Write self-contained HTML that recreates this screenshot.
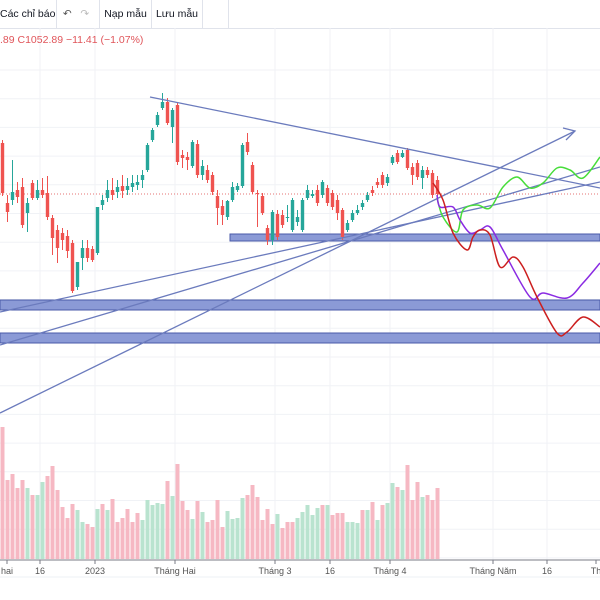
<!DOCTYPE html>
<html><head><meta charset="utf-8"><style>
html,body{margin:0;padding:0;background:#fff;width:600px;height:600px;overflow:hidden;font-family:"Liberation Sans","DejaVu Sans",sans-serif}
#tb{position:absolute;left:0;top:0;width:600px;height:28px;border-bottom:1px solid #e0e3eb;font-size:10.5px;color:#131722;white-space:nowrap}
.tbi{position:absolute;top:0;height:28px;line-height:28px;border-right:1px solid #e0e3eb;white-space:nowrap;overflow:hidden}
#legend{position:absolute;left:0;top:34px;font-size:10.5px;color:#e0555a;white-space:nowrap}
svg{position:absolute;left:0;top:0}
</style></head><body>
<div id="tb">
<div class="tbi" style="left:0;width:56px">Các chỉ báo</div>
<div class="tbi" style="left:57px;width:42px;color:#555">&nbsp;&nbsp;↶&nbsp;&nbsp;&nbsp;<span style="color:#bbb">↷</span></div>
<div class="tbi" style="left:100px;width:51px;text-align:center">Nạp mẫu</div>
<div class="tbi" style="left:152px;width:50px;text-align:center">Lưu mẫu</div>
<div class="tbi" style="left:203px;width:25px"></div>
</div>
<svg id="ch" width="600" height="600"></svg>
<div id="legend">.89 C1052.89 −11.41 (−1.07%)</div>
<script>
// Prices (derived from reference; price = 1247 - pixel row at 1 unit/px)
const opens=[1104,1044,1047,1057,1060,1034,1064,1049,1057,1054,1029,1017,1014,1011,1004,960,989,999,998,994,1042,1049,1057,1055,1061,1057,1060,1062,1067,1077,1107,1122,1139,1145,1120,1142,1092,1090,1081,1103,1072,1077,1072,1051,1041,1030,1047,1057,1061,1105,1082,1054,1051,1019,1007,1033,1032,1029,1017,1025,1017,1049,1051,1057,1052,1059,1054,1047,1037,1017,1027,1034,1040,1047,1057,1065,1072,1064,1084,1094,1090,1097,1080,1084,1069,1077,1074,1067];
const closes=[1054,1035,1055,1050,1022,1044,1049,1057,1052,1030,1009,999,1007,996,956,985,999,989,987,1040,1047,1057,1052,1060,1056,1061,1064,1065,1072,1102,1117,1132,1145,1124,1137,1085,1089,1087,1105,1072,1081,1067,1055,1039,1032,1046,1060,1061,1102,1095,1055,1053,1034,1007,1035,1010,1022,1030,1047,1030,1047,1057,1053,1044,1065,1044,1040,1034,1010,1024,1034,1037,1044,1052,1054,1062,1062,1070,1090,1085,1094,1079,1072,1070,1077,1072,1052,1053];
const highs=[1107,1052,1087,1065,1069,1049,1067,1067,1069,1071,1032,1022,1019,1017,1007,985,1007,1007,1001,1040,1052,1067,1069,1067,1072,1069,1072,1072,1077,1104,1119,1135,1154,1149,1139,1144,1097,1095,1107,1107,1087,1082,1075,1057,1047,1047,1065,1064,1104,1114,1085,1057,1054,1022,1037,1037,1037,1042,1049,1037,1049,1062,1057,1062,1067,1062,1057,1052,1039,1027,1037,1042,1047,1055,1061,1069,1075,1073,1092,1097,1097,1099,1084,1087,1081,1080,1077,1071];
const lows=[1051,1025,1042,1044,1019,1015,1047,1047,1049,1027,992,984,997,989,954,957,977,985,985,992,1037,1045,1047,1049,1049,1052,1055,1057,1059,1075,1105,1120,1137,1122,1104,1082,1079,1077,1079,1069,1067,1064,1052,1022,1022,1027,1045,1055,1059,1092,1053,1020,1032,1002,1002,1007,1019,1025,1015,1021,1015,1047,1049,1041,1049,1041,1037,1027,1007,1015,1025,1032,1037,1045,1051,1059,1059,1061,1082,1083,1089,1077,1062,1067,1058,1069,1049,1051];
// Volume (thousands) and up/down flag
const volumes=[1320,790,850,710,790,710,640,640,770,830,930,690,520,410,550,490,370,350,320,500,550,490,600,370,410,500,370,460,390,590,540,560,550,780,630,950,580,490,400,580,470,370,390,590,320,480,400,410,610,640,740,620,390,500,350,450,310,370,370,410,470,540,440,510,540,540,440,460,460,370,370,360,490,490,570,390,540,560,760,720,690,940,590,770,620,640,590,710];
const volUp=[0,0,0,0,0,1,0,1,1,0,0,0,0,0,0,1,1,0,0,1,0,1,0,0,0,0,0,0,1,1,1,1,1,0,1,0,0,0,1,0,1,0,0,0,0,1,1,1,1,0,0,0,0,0,0,1,0,0,0,1,1,1,1,1,0,1,0,0,0,1,1,1,0,1,0,1,0,1,1,0,1,0,0,0,1,0,0,0];
const xTicks=["hai","16","2023","Tháng Hai","Tháng 3","16","Tháng 4","Tháng Năm","16","Th"];
const xTickPos=[7,40,95,175,275,330,390,493,547,596];

const svg=document.getElementById('ch');
const NS='http://www.w3.org/2000/svg';
function mk(t,a,p){const e=document.createElementNS(NS,t);for(const k in a)e.setAttribute(k,a[k]);(p||svg).appendChild(e);return e;}
const X=i=>2.5+5*i;
const Y=p=>1247-p;
const VY=v=>559-v/10;

// grid
const grid=mk('g',{});


xTickPos.forEach(x=>{if(x>10&&x<590)mk('line',{x1:x,y1:28,x2:x,y2:560,stroke:'#f0f2f6','stroke-width':1},grid);});
for(let y=70;y<560;y+=28.7)mk('line',{x1:0,y1:y,x2:600,y2:y,stroke:'#f0f2f6','stroke-width':1},grid);

// volume
const vg=mk('g',{});


volumes.forEach((v,i)=>{const r=mk('rect',{x:X(i)-2,y:VY(v),width:4,height:559-VY(v),fill:volUp[i]?'#b9e3cf':'#f6b8c3'},vg);

});

// dotted last price line
const dl=mk('line',{x1:0,y1:Y(closes[closes.length-1]),x2:600,y2:Y(closes[closes.length-1]),stroke:'#e57373','stroke-width':1,'stroke-dasharray':'1,2'});



// rectangles
const rects=[[230,234,370,7],[0,300,600,10],[0,333,600,10]];
rects.forEach((r,i)=>{const e=mk('rect',{x:r[0],y:r[1],width:r[2],height:r[3],fill:'#8b9ad6',stroke:'#4a5aa8','stroke-width':1});

});

// candles
const cg=mk('g',{});


opens.forEach((o,i)=>{const c=closes[i];const up=c>=o;const col=up?'#26a69a':'#ef5350';
mk('line',{x1:X(i),y1:Y(highs[i]),x2:X(i),y2:Y(lows[i]),stroke:col,'stroke-width':1},cg);
const b=mk('rect',{x:X(i)-1.7,y:Y(Math.max(o,c)),width:3.4,height:Math.max(1,Math.abs(o-c)),fill:col},cg);

});

// trend lines
const lines=[[150,97,600,188],[0,312,600,182],[0,345,600,167],[0,413,575,131]];
lines.forEach(l=>{const e=mk('line',{x1:l[0],y1:l[1],x2:l[2],y2:l[3],stroke:'#6b7bbd','stroke-width':1.3});

});
const ar=mk('path',{d:'M563,128 L575,131 L566,140',fill:'none',stroke:'#6b7bbd','stroke-width':1.3});



// projection waves
function cr(pts){let d='M'+pts[0][0]+','+pts[0][1];for(let i=0;i<pts.length-1;i++){const p0=pts[i-1]||pts[i],p1=pts[i],p2=pts[i+1],p3=pts[i+2]||p2;
d+=' C'+(p1[0]+(p2[0]-p0[0])/6)+','+(p1[1]+(p2[1]-p0[1])/6)+' '+(p2[0]-(p3[0]-p1[0])/6)+','+(p2[1]-(p3[1]-p1[1])/6)+' '+p2[0]+','+p2[1];}return d;}
const waves=[
['projection-green','#47dd3a',[[437,198],[443,217],[457,232],[463,210],[477,205],[490,208],[503,187],[517,177],[530,188],[543,183],[557,168],[570,170],[583,178],[600,157]]],
['projection-purple','#8a2be2',[[437,195],[440,207],[453,207],[460,220],[470,233],[480,230],[490,227],[503,250],[530,297],[543,293],[567,298],[583,283],[600,263]]],
['projection-red','#cc1f1f',[[433,183],[443,200],[453,233],[467,250],[473,237],[480,230],[490,235],[500,267],[513,257],[523,267],[537,297],[557,333],[567,332],[583,317],[600,327]]]];
waves.forEach(w=>{const e=mk('path',{d:cr(w[2]),fill:'none',stroke:w[1],'stroke-width':1.5});

});

// time axis
mk('line',{x1:0,y1:560,x2:600,y2:560,stroke:'#787b86','stroke-width':1});
mk('line',{x1:0,y1:577,x2:600,y2:577,stroke:'#eef0f4','stroke-width':1});
xTicks.forEach((t,i)=>{const x=xTickPos[i];
mk('line',{x1:x,y1:560,x2:x,y2:564,stroke:'#787b86'});
const e=mk('text',{x:x,y:574,'font-size':9,fill:'#555','text-anchor':'middle','font-family':'Liberation Sans, sans-serif'});
e.textContent=t;

});
</script>
</body></html>
